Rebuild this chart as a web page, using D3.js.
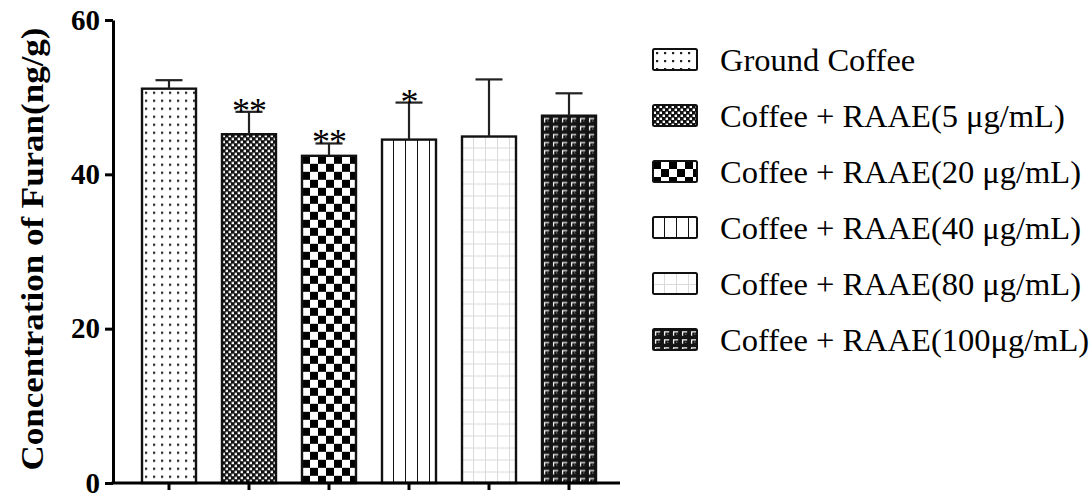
<!DOCTYPE html>
<html>
<head>
<meta charset="utf-8">
<script src="https://cdn.jsdelivr.net/npm/d3@7"></script>
<style>
  html, body { margin: 0; padding: 0; background: #fff; }
  svg { display: block; }
  text { font-family: "Liberation Serif", "Times New Roman", serif; fill: #000; }
</style>
</head>
<body>
<svg id="chart" width="1092" height="498"></svg>
<script>
// Furan concentration in ground coffee with increasing RAAE dose (mean + SD)
const categories = [
  "Ground Coffee",
  "Coffee + RAAE(5 \u03bcg/mL)",
  "Coffee + RAAE(20 \u03bcg/mL)",
  "Coffee + RAAE(40 \u03bcg/mL)",
  "Coffee + RAAE(80 \u03bcg/mL)",
  "Coffee + RAAE(100\u03bcg/mL)"
];
const means = [51.1, 45.2, 42.4, 44.5, 44.9, 47.6];
const errors = [1.1, 2.9, 1.6, 4.8, 7.4, 2.9];
const significance = ["", "**", "**", "*", "", ""];
const fills = ["dots", "fineCheck", "check", "vlines", "grid", "dark"];
const yTicks = [0, 20, 40, 60];

const svg = d3.select("#chart");
const defs = svg.append("defs");

const margin = { left: 113, bottom: 483, top: 20, axisEnd: 620 };
const x = d3.scaleBand()
  .domain(categories)
  .range([129, 609])
  .paddingInner(0.325)
  .paddingOuter(0.1625);
const y = d3.scaleLinear().domain([0, 60]).range([margin.bottom, margin.top]);

// Fill patterns, anchored to the origin of the shape that uses them
function makePattern(id, kind, x0, y0) {
  const sizes = { dots: [8, 8], fineCheck: [6, 6], check: [16, 16], vlines: [12, 10], grid: [12, 12], dark: [9, 8] };
  const [w, h] = sizes[kind];
  const p = defs.append("pattern")
    .attr("id", id)
    .attr("patternUnits", "userSpaceOnUse")
    .attr("x", x0).attr("y", y0)
    .attr("width", w).attr("height", h);
  if (kind === "dots") {
    p.append("rect").attr("width", w).attr("height", h).attr("fill", "#fff");
    p.append("rect").attr("x", 3).attr("y", 3).attr("width", 2.2).attr("height", 2.2).attr("fill", "#222");
  } else if (kind === "fineCheck") {
    p.append("rect").attr("width", w).attr("height", h).attr("fill", "#111");
    p.append("rect").attr("x", 0.6).attr("y", 0.6).attr("width", 2.4).attr("height", 2.4).attr("fill", "#fff");
    p.append("rect").attr("x", 3.6).attr("y", 3.6).attr("width", 2.4).attr("height", 2.4).attr("fill", "#fff");
  } else if (kind === "check") {
    p.append("rect").attr("width", w).attr("height", h).attr("fill", "#fff");
    p.append("rect").attr("x", 0).attr("y", 0).attr("width", 8).attr("height", 8).attr("fill", "#000");
    p.append("rect").attr("x", 8).attr("y", 8).attr("width", 8).attr("height", 8).attr("fill", "#000");
  } else if (kind === "vlines") {
    p.append("rect").attr("width", w).attr("height", h).attr("fill", "#fff");
    p.append("rect").attr("x", 11).attr("y", 0).attr("width", 1.6).attr("height", h).attr("fill", "#111");
  } else if (kind === "grid") {
    p.append("rect").attr("width", w).attr("height", h).attr("fill", "#fff");
    p.append("rect").attr("x", 11).attr("y", 0).attr("width", 1.8).attr("height", h).attr("fill", "#dadada");
    p.append("rect").attr("x", 0).attr("y", 11).attr("width", w).attr("height", 1.8).attr("fill", "#dadada");
  } else if (kind === "dark") {
    p.append("rect").attr("width", w).attr("height", h).attr("fill", "#141414");
    p.append("path").attr("d", "M2.6,6.8 V2.8 H7.2").attr("fill", "none")
      .attr("stroke", "#f6f6f6").attr("stroke-width", 1.3);
    p.append("path").attr("d", "M5,5.2 H6.4").attr("fill", "none")
      .attr("stroke", "#8c8c8c").attr("stroke-width", 1);
  }
  return `url(#${id})`;
}

const barWidth = x.bandwidth();
const plot = svg.append("g");

// Bars
categories.forEach((c, i) => {
  const bx = x(c), by = y(means[i]);
  plot.append("rect")
    .attr("x", bx).attr("y", by)
    .attr("width", barWidth).attr("height", y(0) - by)
    .attr("fill", makePattern("bar" + i, fills[i], bx, by))
    .attr("stroke", "#111").attr("stroke-width", 2.4);
});

// Error bars (upper whisker only) with significance marks
const capHalf = barWidth / 4;
categories.forEach((c, i) => {
  const cx = x(c) + barWidth / 2;
  const top = y(means[i] + errors[i]);
  plot.append("line")
    .attr("x1", cx).attr("x2", cx)
    .attr("y1", y(means[i])).attr("y2", top)
    .attr("stroke", "#222").attr("stroke-width", 2.2);
  plot.append("line")
    .attr("x1", cx - capHalf).attr("x2", cx + capHalf)
    .attr("y1", top).attr("y2", top)
    .attr("stroke", "#222").attr("stroke-width", 2.2);
  if (significance[i]) {
    plot.append("text")
      .attr("x", cx).attr("y", top + 11)
      .attr("text-anchor", "middle")
      .style("font-size", "36px")
      .style("letter-spacing", "-1px")
      .text(significance[i]);
  }
});

// Y axis
const yAxis = svg.append("g")
  .attr("transform", `translate(${margin.left},0)`)
  .call(d3.axisLeft(y).tickValues(yTicks).tickSize(8).tickSizeOuter(0).tickPadding(5));
yAxis.attr("font-family", null).attr("font-size", null);
yAxis.select(".domain").attr("stroke", "#000").attr("stroke-width", 3);
yAxis.selectAll(".tick line").attr("stroke", "#000").attr("stroke-width", 3);
yAxis.selectAll(".tick text")
  .style("font-family", "'Liberation Serif', serif")
  .style("font-weight", "bold")
  .style("font-size", "29px")
  .attr("fill", "#000");

// X axis: baseline plus a tick under each bar
const xAxis = svg.append("g")
  .attr("transform", `translate(0,${margin.bottom})`)
  .call(d3.axisBottom(x).tickSize(7).tickSizeOuter(0).tickFormat(""));
xAxis.select(".domain").remove();
xAxis.selectAll(".tick line").attr("stroke", "#000").attr("stroke-width", 3);
svg.append("line")
  .attr("x1", margin.left - 1.5).attr("x2", margin.axisEnd)
  .attr("y1", margin.bottom).attr("y2", margin.bottom)
  .attr("stroke", "#000").attr("stroke-width", 3);

// Y axis title
svg.append("text")
  .attr("transform", "translate(43,249) rotate(-90)")
  .attr("text-anchor", "middle")
  .attr("textLength", 443)
  .attr("lengthAdjust", "spacingAndGlyphs")
  .style("font-weight", "bold")
  .style("font-size", "32px")
  .text("Concentration of Furan(ng/g)");

// Legend
const legend = svg.append("g");
const rowGap = 56, firstRow = 59.5;
categories.forEach((c, i) => {
  const cy = firstRow + i * rowGap;
  const sx = 653, sy = cy - 10.5;
  legend.append("rect")
    .attr("x", sx).attr("y", sy)
    .attr("width", 44).attr("height", 21)
    .attr("rx", 1.5)
    .attr("fill", makePattern("leg" + i, fills[i], sx, sy))
    .attr("stroke", "#111").attr("stroke-width", 2);
  legend.append("text")
    .attr("x", 720).attr("y", cy + 11)
    .style("font-size", "32.5px")
    .text(c);
});
</script>
</body>
</html>
